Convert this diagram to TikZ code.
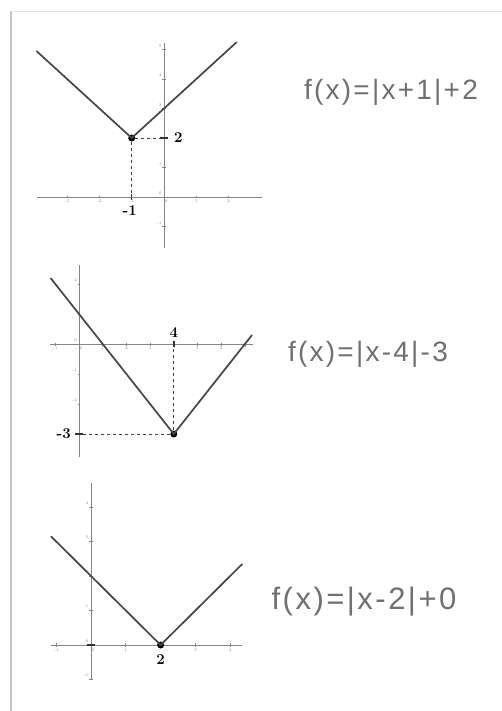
\documentclass[tikz,border=0pt]{standalone}
\usepackage{fontspec}
\newfontfamily\handfont[LetterSpace=8]{Liberation Sans}
\usetikzlibrary{positioning}
\definecolor{axisgray}{HTML}{858585}
\definecolor{penline}{HTML}{4A4444}
\definecolor{pencil}{HTML}{707070}
\definecolor{framegray}{HTML}{C4C4C4}

\begin{document}
\begin{tikzpicture}[
  x=1pt, y=-1pt,
  axis/.style={draw=axisgray, line width=0.8pt},
  graphline/.style={draw=penline, line width=1.7pt},
  guide/.style={draw=black!75, dashed, line width=0.8pt},
  crossmark/.style={draw=black!80, line width=1.4pt},
  ticklbl/.style={font=\fontsize{4}{4}\selectfont, text=axisgray, inner sep=0.6pt},
  keylbl/.style={font=\fontsize{15}{15}\selectfont\bfseries, inner sep=0pt},
  formula/.style={font=\handfont\fontsize{28}{28}\selectfont, text=pencil, inner sep=0pt},
  vertex/.style={circle, fill=black, inner sep=0pt, minimum size=7pt}
]
  \useasboundingbox[fill=white] (0,0) rectangle (502,711);
  % paper edge
  \draw[framegray, line width=1.5pt] (11,711) -- (11,11);
  \draw[framegray!50, line width=0.8pt] (11,11) -- (502,11);

  % first graph: |x+1|+2
  \begin{scope}[shift={(164,197)}, x=32.3pt, y=29.5pt]
    \draw[axis] (-3.93,0) -- (3.03,0);
    \draw[axis] (0,-1.73) -- (0,5.22);
    \foreach \i in {-3,-2,-1,1,2} {
      \draw[axis] (\i,0.05) -- (\i,-0.05);
      \node[ticklbl, below] at (\i,-0.08) {\i};
    }
    \node[ticklbl, below right] at (0,-0.08) {0};
    \foreach \j in {-1,0,1,3,4,5} {
      \draw[axis] (-0.05,\j) -- (0.05,\j);
      \node[ticklbl, left] at (-0.05,\j+0.12) {\j};
    }
    \coordinate (p1x) at (-1,0);
    \coordinate (p1y) at (0,2);
    \node[vertex] (v1) at (-1,2) {};
    \draw[guide] (v1) -- (p1x);
    \draw[guide] (v1) -- (p1y);
    \draw[graphline] (-3.95,4.95) -- (v1.center) -- (2.25,5.25);
    \draw[crossmark] ([yshift=-3pt]p1x) -- ([yshift=3pt]p1x);
    \draw[crossmark] ([xshift=-4pt]p1y) -- ([xshift=4pt]p1y);
    \node[keylbl, right=10pt of p1y] (lbl2) {2};
    \node[keylbl, below=8pt of p1x, xshift=-2pt] (lblm1) {-1};
  \end{scope}
  \node[formula] (f1) at (391,92) {f(x)=|x+1|+2};

  % second graph: |x-4|-3
  \begin{scope}[shift={(79,344)}, x=23.7pt, y=30pt]
    \draw[axis] (-1.22,0) -- (7.34,0);
    \draw[axis] (0,-3.77) -- (0,2.63);
    \foreach \i in {-1,1,2,3,5,6,7} {
      \draw[axis] (\i,0.05) -- (\i,-0.05);
      \node[ticklbl, below] at (\i,-0.08) {\i};
    }
    \node[ticklbl, below right] at (0,-0.08) {0};
    \foreach \j in {-2,-1,0,1,2} {
      \draw[axis] (-0.05,\j) -- (0.05,\j);
      \node[ticklbl, left] at (-0.05,\j+0.12) {\j};
    }
    \coordinate (p2x) at (4,0);
    \coordinate (p2y) at (0,-3);
    \node[vertex] (v2) at (4,-3) {};
    \draw[guide] (v2) -- (p2x);
    \draw[guide] (v2) -- (p2y);
    \draw[graphline] (-1.2,2.2) -- (v2.center) -- (7.3,0.3);
    \draw[crossmark] ([yshift=-3pt]p2x) -- ([yshift=3pt]p2x);
    \draw[crossmark] ([xshift=-4pt]p2y) -- ([xshift=4pt]p2y);
    \node[keylbl, above=6pt of p2x] (lbl4) {4};
    \node[keylbl, left=8pt of p2y] (lblm3) {-3};
  \end{scope}
  \node[formula] (f2) at (368,354) {f(x)=|x-4|-3};

  % third graph: |x-2|+0
  \begin{scope}[shift={(91,645)}, x=34.8pt, y=34.5pt]
    \draw[axis] (-1.15,0) -- (4.34,0);
    \draw[axis] (0,-1.0) -- (0,4.7);
    \foreach \i in {-1,1,3,4} {
      \draw[axis] (\i,0.05) -- (\i,-0.05);
      \node[ticklbl, below] at (\i,-0.08) {\i};
    }
    \node[ticklbl, below right] at (0,-0.08) {0};
    \foreach \j in {-1,0,1,2,3,4} {
      \draw[axis] (-0.05,\j) -- (0.05,\j);
      \node[ticklbl, left] at (-0.05,\j+0.12) {\j};
    }
    \coordinate (o3) at (0,0);
    \node[vertex] (v3) at (2,0) {};
    \draw[graphline] (-1.15,3.15) -- (v3.center) -- (4.35,2.35);
    \draw[crossmark] ([xshift=-4pt]o3) -- ([xshift=4pt]o3);
    \node[keylbl, below=9pt of v3.center] (lbl2b) {2};
  \end{scope}
  \node[formula, font=\handfont\fontsize{31}{31}\selectfont] (f3) at (364,602) {f(x)=|x-2|+0};
\end{tikzpicture}
\end{document}
